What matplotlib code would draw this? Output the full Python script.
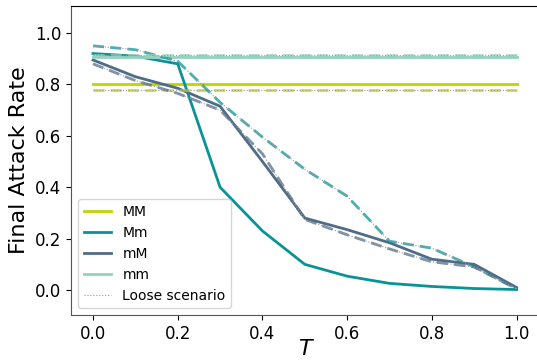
import matplotlib
matplotlib.use("Agg")
import matplotlib.pyplot as plt
from matplotlib.lines import Line2D

T = [0.0, 0.1, 0.2, 0.3, 0.4, 0.5, 0.6, 0.7, 0.8, 0.9, 1.0]

# strict scenario
MM = [0.80] * 11
Mm = [0.92, 0.91, 0.88, 0.40, 0.23, 0.10, 0.054, 0.026, 0.014, 0.006, 0.002]
mM = [0.895, 0.83, 0.785, 0.715, 0.50, 0.28, 0.235, 0.184, 0.12, 0.10, 0.01]
mm = [0.907] * 11

# loose scenario
MM_loose = [0.78] * 11
Mm_loose = [0.95, 0.935, 0.89, 0.73, 0.595, 0.47, 0.365, 0.19, 0.163, 0.09, 0.005]
mM_loose = [0.88, 0.815, 0.765, 0.70, 0.53, 0.275, 0.215, 0.16, 0.11, 0.09, 0.005]
mm_loose = [0.915] * 11

names = ["MM", "Mm", "mM", "mm"]
colors = ["#bfd400", "#0a9396", "#4f6c88", "#94d2bd"]
strict = [MM, Mm, mM, mm]
loose = [MM_loose, Mm_loose, mM_loose, mm_loose]

fig = plt.figure(figsize=(5.37, 3.6), dpi=100)
ax = fig.add_axes([71/537, 1-315/360, (542-71)/537, (315-6)/360])

for name, c, s, l in zip(names, colors, strict, loose):
    ax.plot(T, s, color=c, lw=2, label=name)
for name, c, s, l in zip(names, colors, strict, loose):
    ax.plot(T, l, color=c, lw=2, ls=(0, (4, 2.2)), alpha=0.75)
    ax.plot(T, l, color="#9a9a9a", lw=0.8, ls=":")

ax.set_xlim(-0.052, 1.06)
ax.set_ylim(-0.097, 1.105)
ax.set_xticks([0.0, 0.2, 0.4, 0.6, 0.8, 1.0])
ax.set_yticks([0.0, 0.2, 0.4, 0.6, 0.8, 1.0])
ax.tick_params(labelsize=12)
for k in ["left", "bottom"]:
    ax.spines[k].set_color("#555555")
ax.set_xlabel("$T$", fontsize=16, labelpad=-3)
ax.set_ylabel("Final Attack Rate", fontsize=16)

handles, labels = ax.get_legend_handles_labels()
handles.append(Line2D([], [], color="#9a9a9a", lw=0.8, ls=":"))
labels.append("Loose scenario")
ax.legend(handles, labels, loc="lower left", fontsize=10)

fig.savefig("out.png", dpi=100)
